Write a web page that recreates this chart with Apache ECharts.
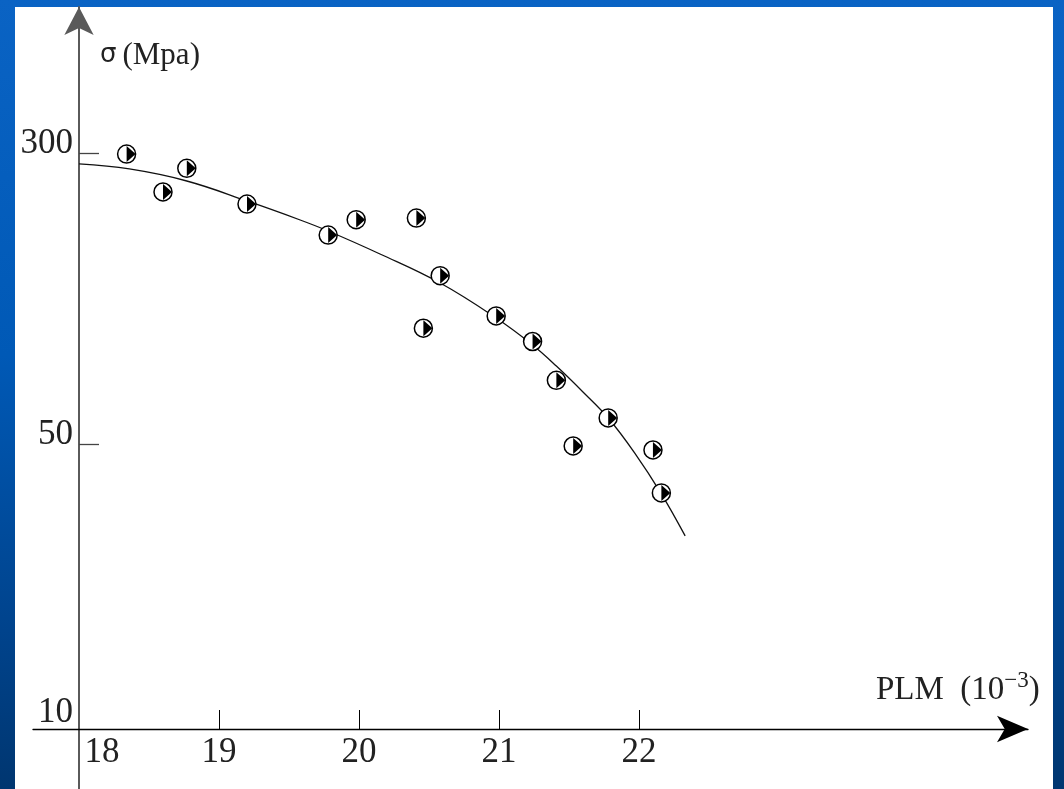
<!DOCTYPE html>
<html>
<head>
<meta charset="utf-8">
<script src="https://cdn.jsdelivr.net/npm/echarts@6.0.0/dist/echarts.min.js"></script>
<style>
html, body { margin: 0; padding: 0; width: 1064px; height: 789px; overflow: hidden;
  background: linear-gradient(180deg, #0a63c4 0%, #0059b6 45%, #00438c 80%, #003670 100%); }
#panel { position: absolute; left: 15px; top: 7px; width: 1038px; height: 782px; background: #fff; }
#main { position: absolute; left: 0; top: 0; width: 1064px; height: 789px; }
</style>
</head>
<body>
<div id="panel"></div>
<div id="main"></div>
<script>
// measured points
var plm = [18.34, 18.60, 18.77, 19.20, 19.78, 19.98, 20.41, 20.46, 20.58, 20.98, 21.24, 21.41, 21.53, 21.78, 22.10, 22.16];
var sigma = [298, 236, 273, 219, 181, 199, 201, 102, 141, 110, 94, 74, 49.4, 58.7, 48.2, 37];

// fitted curve
var fitX = [18.0, 18.36, 18.77, 19.2, 19.58, 19.78, 20.15, 20.58, 20.98, 21.24, 21.41, 21.6, 21.78, 21.97, 22.16, 22.33];
var fitY = [280.4, 271.9, 252.5, 223.3, 198.6, 185.6, 161.1, 134.7, 108.6, 92.0, 80.8, 68.9, 58.7, 47.3, 36.8, 28.4];

// axis ticks / labels
var xTicks = [19, 20, 21, 22];
var xLabels = [18, 19, 20, 21, 22];
var yTicks = [50, 300];
var yLabels = [10, 50, 300];

var font = 'Liberation Serif';

function pairs(xs, ys) {
  return xs.map(function (x, i) { return [x, ys[i]]; });
}

var myChart = echarts.init(document.getElementById('main'));

var option = {
  backgroundColor: 'transparent',
  animation: false,
  grid: { left: 33, right: 36, top: 7, bottom: 0 },
  xAxis: {
    type: 'value',
    min: 17.6714,
    max: 24.779,
    position: 'bottom',
    offset: -60,
    splitLine: { show: false },
    axisLine: {
      show: true,
      lineStyle: { color: '#000', width: 1.3 },
      symbol: ['none', 'arrow'],
      symbolSize: [20, 31]
    },
    axisTick: {
      show: true, inside: true, length: 19, customValues: xTicks,
      lineStyle: { color: '#000', width: 1 }
    },
    axisLabel: {
      customValues: xLabels,
      margin: 6,
      formatter: function (v) { return v === 18 ? '{c|18}' : '{d|' + v + '}'; },
      rich: {
        c: { fontFamily: font, fontSize: 35, color: '#222', padding: [0, 0, 0, 46] },
        d: { fontFamily: font, fontSize: 35, color: '#222' }
      }
    },
    name: '{n|PLM  (10}{s|−3}{n|)}',
    nameLocation: 'end',
    nameGap: -152,
    nameTextStyle: {
      align: 'left',
      padding: [0, 0, 78, 0],
      rich: {
        n: { fontFamily: font, fontSize: 33, color: '#222' },
        s: { fontFamily: font, fontSize: 23, color: '#222', padding: [0, 0, 18, 0] }
      }
    }
  },
  yAxis: {
    type: 'log',
    logBase: 10,
    min: 5.977,
    max: 737.1,
    position: 'left',
    offset: -46,
    splitLine: { show: false },
    axisLine: {
      show: true,
      lineStyle: { color: '#5a5a5a', width: 2 },
      symbol: ['none', 'arrow'],
      symbolSize: [22, 28]
    },
    axisTick: {
      show: true, inside: true, length: 20, customValues: yTicks,
      lineStyle: { color: '#444', width: 1.3 }
    },
    axisLabel: {
      customValues: yLabels,
      margin: 6,
      formatter: function (v) { return v === 10 ? '{b|10}' : '{a|' + v + '}'; },
      rich: {
        a: { fontFamily: font, fontSize: 35, color: '#222', padding: [0, 0, 18, 0] },
        b: { fontFamily: font, fontSize: 35, color: '#222', padding: [14, 0, 0, 0] }
      }
    },
    name: '{g|σ}{n|(Mpa)}',
    nameLocation: 'end',
    nameGap: -64,
    nameTextStyle: {
      align: 'left',
      padding: [0, 0, 0, 21],
      rich: {
        g: { fontFamily: 'DejaVu Sans', fontSize: 26, color: '#222', padding: [0, 6, 0, 0] },
        n: { fontFamily: font, fontSize: 31, color: '#222' }
      }
    }
  },
  series: [
    {
      type: 'line',
      data: pairs(fitX, fitY),
      smooth: 0.4,
      showSymbol: false,
      lineStyle: { color: '#111', width: 1.3 },
      z: 1
    },
    {
      type: 'scatter',
      data: pairs(plm, sigma),
      symbol: 'circle',
      symbolSize: 18,
      itemStyle: { color: '#fff', borderColor: '#000', borderWidth: 1.5, opacity: 1 },
      z: 2
    },
    {
      type: 'scatter',
      data: pairs(plm, sigma),
      symbol: 'path://M0,0L1,0.5L0,1Z',
      symbolSize: [9, 16],
      symbolOffset: [4.5, 0],
      itemStyle: { color: '#000', opacity: 1 },
      z: 3
    }
  ]
};

myChart.setOption(option);
</script>
</body>
</html>
